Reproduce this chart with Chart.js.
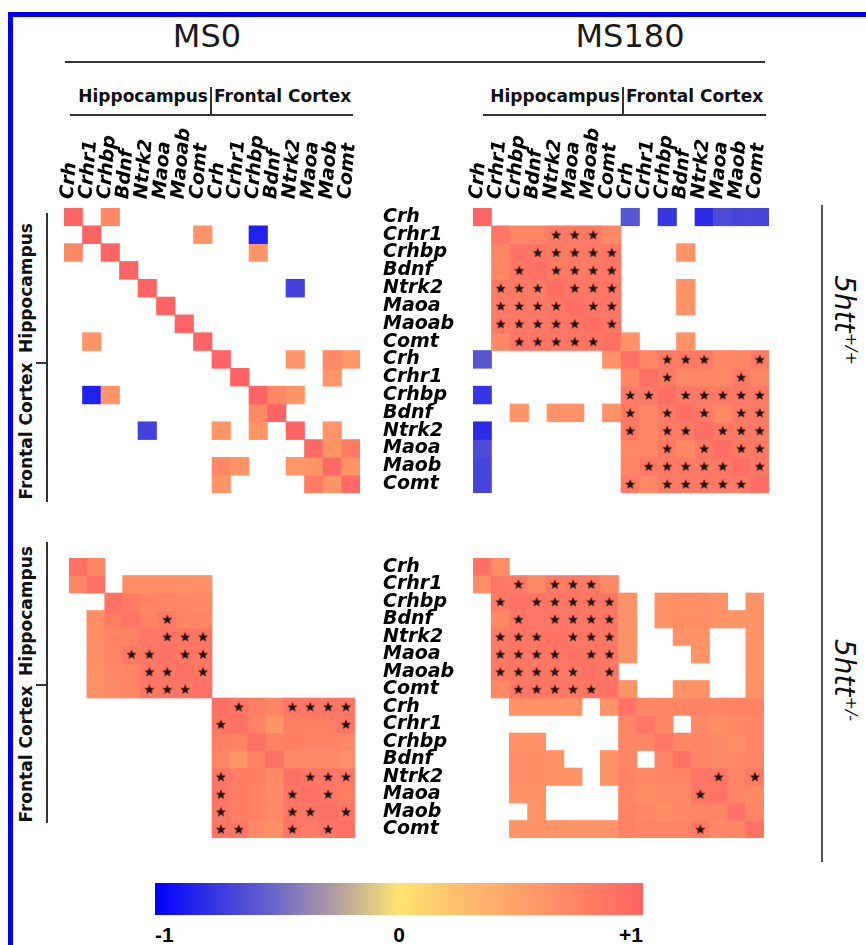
<!DOCTYPE html>
<html>
<head>
<meta charset="utf-8">
<script src="https://cdn.jsdelivr.net/npm/chart.js@4.4.1/dist/chart.umd.min.js"></script>
<style>
  body { margin: 0; background: #fff; }
  #fig { position: relative; width: 866px; height: 945px; overflow: hidden; font-family: 'DejaVu Sans', sans-serif; color: #111; }
  #fig > * { position: absolute; }
  .frame { left: 8px; top: 12px; width: 900px; height: 1000px; border: 5px solid #0000f0; box-sizing: border-box; }
  .title { width: 200px; top: 20px; font-size: 32px; line-height: 32px; text-align: center; color: #1a1a1a; }
  .rule { background: #333; }
  .head { top: 88px; font-size: 17px; line-height: 17px; font-weight: bold; white-space: nowrap; }
  .side { width: 180px; height: 20px; line-height: 20px; font-size: 17px; font-weight: bold; text-align: center; transform: rotate(-90deg); white-space: nowrap; }
  .geno { width: 160px; height: 36px; line-height: 36px; font-size: 28px; font-style: italic; text-align: center; transform: rotate(90deg); white-space: nowrap; }
  .geno sup { font-size: 16px; vertical-align: 11px; line-height: 0; }
  .cb { font-family: 'Liberation Sans', Arial, sans-serif; font-weight: bold; font-size: 21px; line-height: 21px; top: 924px; color: #000; }
</style>
</head>
<body>
<div id="fig">
  <div class="frame"></div>

  <div class="title" style="left:107px">MS0</div>
  <div class="title" style="left:530px">MS180</div>
  <div class="rule" style="left:65px;top:61px;width:700px;height:2px"></div>

  <div class="head" style="left:48px;width:160px;text-align:right">Hippocampus</div>
  <div class="rule" style="left:210px;top:87px;width:1.5px;height:28px"></div>
  <div class="head" style="left:214px">Frontal Cortex</div>
  <div class="rule" style="left:70px;top:114px;width:283px;height:1.5px"></div>

  <div class="head" style="left:460px;width:160px;text-align:right">Hippocampus</div>
  <div class="rule" style="left:622px;top:87px;width:1.5px;height:28px"></div>
  <div class="head" style="left:626px">Frontal Cortex</div>
  <div class="rule" style="left:483px;top:114px;width:283px;height:1.5px"></div>

  <div class="rule" style="left:46px;top:213px;width:1.5px;height:289px"></div>
  <div class="rule" style="left:36px;top:362px;width:11px;height:1.5px"></div>
  <div class="side" style="left:-64px;top:278px">Hippocampus</div>
  <div class="side" style="left:-64px;top:421px">Frontal Cortex</div>

  <div class="rule" style="left:46px;top:542px;width:1.5px;height:281px"></div>
  <div class="rule" style="left:36px;top:684px;width:11px;height:1.5px"></div>
  <div class="side" style="left:-64px;top:601px">Hippocampus</div>
  <div class="side" style="left:-64px;top:744px">Frontal Cortex</div>

  <div class="rule" style="left:821px;top:205px;width:2px;height:657px;background:#555"></div>
  <div class="geno" style="left:764px;top:302px">5htt<sup>+/+</sup></div>
  <div class="geno" style="left:764px;top:662px">5htt<sup>+/-</sup></div>

  <canvas id="chWtMs0" width="338" height="378" style="left:52px;top:120px"></canvas>
  <canvas id="chWtMs180" width="416" height="378" style="left:383px;top:120px"></canvas>
  <canvas id="chHetMs0" width="296" height="290" style="left:64px;top:553px"></canvas>
  <canvas id="chHetMs180" width="386" height="290" style="left:383px;top:553px"></canvas>

  <div id="colorbar" style="left:155px;top:883px;width:488px;height:32px"></div>
  <div class="cb" style="left:155px">-1</div>
  <div class="cb" style="left:389px;width:20px;text-align:center">0</div>
  <div class="cb" style="left:583px;width:60px;text-align:right">+1</div>
</div>

<script>
var _ = null;

var geneLabels = ["Crh", "Crhr1", "Crhbp", "Bdnf", "Ntrk2", "Maoa", "Maoab", "Comt",
                  "Crh", "Crhr1", "Crhbp", "Bdnf", "Ntrk2", "Maoa", "Maob", "Comt"];

// 5htt+/+, MS0
var wtMs0 = [
  [1, _, .7, _, _, _, _, _, _, _, _, _, _, _, _, _],
  [_, 1, _, _, _, _, _, .6, _, _, -.85, _, _, _, _, _],
  [.7, _, 1, _, _, _, _, _, _, _, .6, _, _, _, _, _],
  [_, _, _, 1, _, _, _, _, _, _, _, _, _, _, _, _],
  [_, _, _, _, 1, _, _, _, _, _, _, _, -.7, _, _, _],
  [_, _, _, _, _, 1, _, _, _, _, _, _, _, _, _, _],
  [_, _, _, _, _, _, 1, _, _, _, _, _, _, _, _, _],
  [_, .6, _, _, _, _, _, 1, _, _, _, _, _, _, _, _],
  [_, _, _, _, _, _, _, _, 1, _, _, _, .6, _, .7, .6],
  [_, _, _, _, _, _, _, _, _, 1, _, _, _, _, .6, _],
  [_, -.85, .6, _, _, _, _, _, _, _, 1, .7, .6, _, _, _],
  [_, _, _, _, _, _, _, _, _, _, .7, 1, _, _, _, _],
  [_, _, _, _, -.7, _, _, _, .6, _, .6, _, 1, _, .6, _],
  [_, _, _, _, _, _, _, _, _, _, _, _, _, .95, .6, .8],
  [_, _, _, _, _, _, _, _, .7, .6, _, _, .6, .6, .95, .6],
  [_, _, _, _, _, _, _, _, .6, _, _, _, _, .8, .6, .95]
];
var wtMs0Stars = [[], [], [], [], [], [], [], [], [], [], [], [], [], [], [], []];

// 5htt+/+, MS180
var wtMs180 = [
  [1, _, _, _, _, _, _, _, -.6, _, -.75, _, -.8, -.65, -.68, -.68],
  [_, .85, .72, .72, .82, .82, .82, .7, _, _, _, _, _, _, _, _],
  [_, .72, .88, .85, .82, .82, .82, .85, _, _, _, .62, _, _, _, _],
  [_, .72, .85, .9, .8, .82, .82, .85, _, _, _, _, _, _, _, _],
  [_, .82, .82, .8, .9, .85, .85, .85, _, _, _, .62, _, _, _, _],
  [_, .82, .82, .82, .85, .9, .85, .85, _, _, _, .62, _, _, _, _],
  [_, .82, .82, .82, .85, .85, .9, .85, _, _, _, _, _, _, _, _],
  [_, .7, .85, .85, .85, .85, .85, .9, .62, _, _, .62, _, _, _, _],
  [-.6, _, _, _, _, _, _, .62, .9, .7, .82, .82, .82, .7, .72, .82],
  [_, _, _, _, _, _, _, _, .7, .9, .82, .7, .7, .7, .82, .7],
  [-.75, _, _, _, _, _, _, _, .82, .82, .9, .82, .82, .82, .82, .82],
  [_, _, .62, _, .62, .62, _, .62, .82, .7, .82, .9, .82, .7, .82, .82],
  [-.8, _, _, _, _, _, _, _, .82, .7, .82, .82, .9, .82, .82, .82],
  [-.65, _, _, _, _, _, _, _, .7, .7, .82, .7, .82, .9, .82, .82],
  [-.68, _, _, _, _, _, _, _, .72, .82, .82, .82, .82, .82, .9, .82],
  [-.68, _, _, _, _, _, _, _, .82, .7, .82, .82, .82, .82, .82, .9]
];
var wtMs180Stars = [[], [4, 5, 6], [3, 4, 5, 6, 7], [2, 4, 5, 6, 7], [1, 2, 3, 5, 6, 7],
  [1, 2, 3, 4, 6, 7], [1, 2, 3, 4, 5, 7], [2, 3, 4, 5, 6], [10, 11, 12, 15], [10, 14],
  [8, 9, 11, 12, 13, 14, 15], [8, 10, 12, 14, 15], [8, 10, 11, 13, 14, 15], [10, 12, 14, 15],
  [9, 10, 11, 12, 13, 15], [8, 10, 11, 12, 13, 14]];

// 5htt+/-, MS0
var hetMs0 = [
  [.9, .72, _, _, _, _, _, _, _, _, _, _, _, _, _, _],
  [.72, .9, _, .65, .66, .66, .64, .64, _, _, _, _, _, _, _, _],
  [_, _, .88, .8, .74, .72, .7, .68, _, _, _, _, _, _, _, _],
  [_, .65, .8, .85, .75, .82, .72, .72, _, _, _, _, _, _, _, _],
  [_, .66, .74, .75, .85, .85, .85, .85, _, _, _, _, _, _, _, _],
  [_, .66, .72, .82, .85, .88, .85, .85, _, _, _, _, _, _, _, _],
  [_, .64, .7, .72, .85, .85, .88, .85, _, _, _, _, _, _, _, _],
  [_, .64, .68, .72, .85, .85, .85, .88, _, _, _, _, _, _, _, _],
  [_, _, _, _, _, _, _, _, .9, .85, .78, .72, .85, .85, .85, .85],
  [_, _, _, _, _, _, _, _, .85, .88, .75, .58, .78, .78, .78, .85],
  [_, _, _, _, _, _, _, _, .78, .75, .9, .76, .78, .75, .75, .7],
  [_, _, _, _, _, _, _, _, .72, .58, .76, .9, .68, .68, .68, .64],
  [_, _, _, _, _, _, _, _, .85, .78, .78, .68, .9, .85, .85, .85],
  [_, _, _, _, _, _, _, _, .85, .78, .75, .68, .85, .9, .85, .8],
  [_, _, _, _, _, _, _, _, .85, .78, .75, .68, .85, .85, .9, .85],
  [_, _, _, _, _, _, _, _, .85, .85, .7, .64, .85, .8, .85, .9]
];
var hetMs0Stars = [[], [], [], [5], [5, 6, 7], [3, 4, 6, 7], [4, 5, 7], [4, 5, 6],
  [9, 12, 13, 14, 15], [8, 15], [], [], [8, 13, 14, 15], [8, 12, 14], [8, 12, 13, 15], [8, 9, 12, 14]];

// 5htt+/-, MS180
var hetMs180 = [
  [.9, .65, _, _, _, _, _, _, _, _, _, _, _, _, _, _],
  [.65, .85, .82, .7, .82, .82, .82, .7, _, _, _, _, _, _, _, _],
  [_, .82, .88, .85, .85, .85, .85, .85, .62, _, .62, .65, .65, .62, _, .62],
  [_, .7, .85, .85, .85, .85, .85, .85, .62, _, .62, .65, .65, .62, .6, .62],
  [_, .82, .85, .85, .88, .85, .85, .85, .62, _, _, .62, .62, _, _, .62],
  [_, .82, .85, .85, .85, .88, .85, .85, .62, _, _, _, .62, _, _, .62],
  [_, .82, .85, .85, .85, .85, .88, .85, _, _, _, _, _, _, _, .62],
  [_, .7, .85, .85, .85, .85, .85, .88, .62, _, _, .62, .62, _, _, .62],
  [_, _, .62, .62, .62, .62, _, .62, .88, .72, .72, .72, .75, .72, .75, .75],
  [_, _, _, _, _, _, _, _, .72, .85, .72, _, .7, .66, .7, .72],
  [_, _, .62, .62, _, _, _, _, .72, .72, .85, .72, .72, .68, .66, .72],
  [_, _, .65, .65, .62, _, _, .62, .72, _, .72, .88, .72, .68, .7, .72],
  [_, _, .65, .65, .62, .62, _, .62, .75, .7, .72, .72, .85, .85, .72, .82],
  [_, _, .62, .62, _, _, _, _, .72, .66, .68, .68, .85, .88, .72, .7],
  [_, _, _, .6, _, _, _, _, .75, .7, .66, .7, .72, .72, .88, .72],
  [_, _, .62, .62, .62, .62, .62, .62, .75, .72, .72, .72, .82, .7, .72, .88]
];
var hetMs180Stars = [[], [2, 4, 5, 6], [1, 3, 4, 5, 6, 7], [2, 4, 5, 6, 7], [1, 2, 3, 5, 6, 7],
  [1, 2, 3, 4, 6, 7], [1, 2, 3, 4, 5, 7], [2, 3, 4, 5, 6], [], [], [], [], [13, 15], [12], [], [12]];

// colour scale -1 .. +1
var shadeStops = [-1, -0.75, -0.5, -0.25, 0, 0.25, 0.5, 0.75, 1];
var shadeRgb = [[0, 0, 255], [55, 55, 225], [110, 105, 200], [180, 160, 160], [255, 228, 112],
                [255, 190, 110], [255, 160, 105], [255, 130, 100], [255, 100, 100]];

function shade(v) {
  var i = 0;
  while (i < shadeStops.length - 2 && v > shadeStops[i + 1]) i++;
  var t = (v - shadeStops[i]) / (shadeStops[i + 1] - shadeStops[i]);
  var c = shadeRgb[i].map(function (a, k) { return Math.round(a + (shadeRgb[i + 1][k] - a) * t); });
  return "rgb(" + c.join(",") + ")";
}

document.getElementById("colorbar").style.background = "linear-gradient(to right, " +
  shadeStops.map(function (s) { return shade(s) + " " + ((s + 1) * 50) + "%"; }).join(", ") + ")";

// filled star used as point style
var starImg = document.createElement("canvas");
starImg.width = 12;
starImg.height = 12;
(function () {
  var g = starImg.getContext("2d");
  g.fillStyle = "#231313";
  g.beginPath();
  for (var i = 0; i < 10; i++) {
    var r = i % 2 ? 2.3 : 5.4;
    var a = -Math.PI / 2 + i * Math.PI / 5;
    g.lineTo(6 + r * Math.cos(a), 6.5 + r * Math.sin(a));
  }
  g.closePath();
  g.fill();
})();

var tickFont = { family: "DejaVu Sans", size: 19, weight: "bold", style: "italic" };

function heatmap(id, values, stars, topLabels, rowLabels, padding) {
  var datasets = [];
  stars.forEach(function (cols, r) {
    datasets.push({
      type: "line",
      order: 0,
      showLine: false,
      pointStyle: starImg,
      pointRadius: 4,
      data: geneLabels.map(function (g, c) { return cols.indexOf(c) > -1 ? r + 0.5 : null; }),
    });
  });
  values.forEach(function (row, r) {
    datasets.push({
      type: "bar",
      order: 1,
      grouped: false,
      barPercentage: 1,
      categoryPercentage: 1,
      borderWidth: 0,
      data: row.map(function (v) { return v === null ? null : [r, r + 1]; }),
      backgroundColor: row.map(function (v) { return v === null ? "rgba(0,0,0,0)" : shade(v); }),
    });
  });

  var x = {
    display: topLabels,
    position: "top",
    grid: { display: false },
    border: { display: false },
    ticks: { autoSkip: false, minRotation: 85, maxRotation: 85, padding: 0, labelOffset: 17,
             color: "#000", font: tickFont },
  };
  if (topLabels) {
    x.afterFit = function (s) { s.height = 88; s.paddingLeft = 0; s.paddingRight = 0; };
  }
  var y = {
    display: rowLabels,
    min: 0,
    max: 16,
    reverse: true,
    grid: { display: false },
    border: { display: false },
    afterBuildTicks: function (s) {
      s.ticks = geneLabels.map(function (g, i) { return { value: i + 0.5 }; });
    },
    ticks: {
      autoSkip: false, crossAlign: "far", padding: 0, color: "#000", font: tickFont,
      callback: function (v, i) { return geneLabels[i]; },
    },
  };
  if (rowLabels) {
    y.afterFit = function (s) { s.width = 90; s.paddingTop = 0; s.paddingBottom = 0; };
  }

  return new Chart(document.getElementById(id), {
    type: "bar",
    data: { labels: geneLabels, datasets: datasets },
    options: {
      responsive: false,
      animation: false,
      events: [],
      layout: { padding: padding },
      plugins: { legend: { display: false }, tooltip: { enabled: false } },
      scales: { x: x, y: y },
    },
  });
}

heatmap("chWtMs0", wtMs0, wtMs0Stars, true, false, { left: 12, right: 30, top: 0, bottom: 0 });
heatmap("chWtMs180", wtMs180, wtMs180Stars, true, true, { left: 0, right: 30, top: 0, bottom: 0 });
heatmap("chHetMs0", hetMs0, hetMs0Stars, false, false, 0);
heatmap("chHetMs180", hetMs180, hetMs180Stars, false, true, 0);
</script>
</body>
</html>
